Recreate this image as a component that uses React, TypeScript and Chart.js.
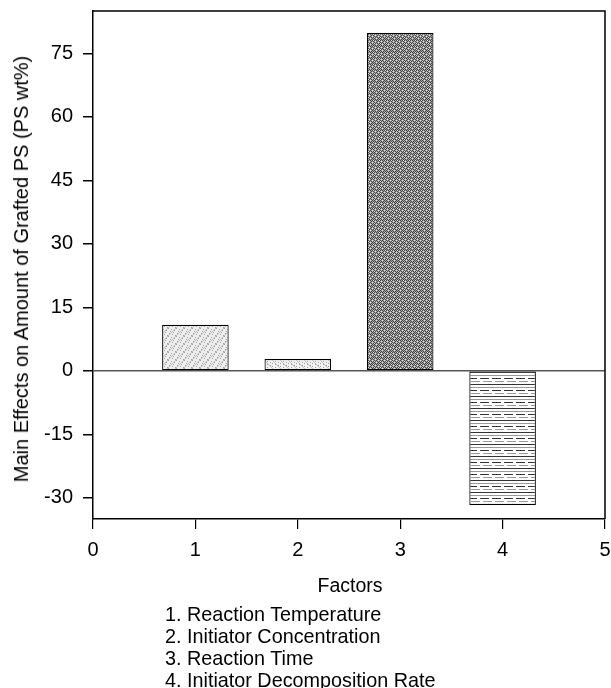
import React, { useEffect, useRef } from "react";
import { Chart, registerables } from "chart.js";

Chart.register(...registerables);

const factors = [1, 2, 3, 4];
const effects = [10.9, 2.8, 79.8, -31.7];
const yTicks = [-30, -15, 0, 15, 30, 45, 60, 75];
const xTicks = [0, 1, 2, 3, 4, 5];
const yTitle = "Main Effects on Amount of Grafted PS (PS wt%)";
const xTitle = "Factors";
const legendLines = [
  "1. Reaction Temperature",
  "2. Initiator Concentration",
  "3. Reaction Time",
  "4. Initiator Decomposition Rate",
];

const FONT = "'Liberation Sans', Arial, sans-serif";

function makePattern(size: number, draw: (g: CanvasRenderingContext2D) => void) {
  const c = document.createElement("canvas");
  c.width = size;
  c.height = size;
  const g = c.getContext("2d") as CanvasRenderingContext2D;
  draw(g);
  return g.createPattern(c, "repeat") as CanvasPattern;
}

function px(g: CanvasRenderingContext2D, x: number, y: number, col: string) {
  g.fillStyle = col;
  g.fillRect(x, y, 1, 1);
}

function buildPatterns() {
  const p1 = makePattern(8, (g) => {
    g.fillStyle = "#eeeeee";
    g.fillRect(0, 0, 8, 8);
    for (let i = 0; i < 8; i++)
      for (let j = 0; j < 8; j++) {
        if ((i * 3 + j * 5) % 7 === 0) px(g, i, j, "#a0a0a0");
      }
    for (let k = 0; k < 8; k++) px(g, k, 7 - k, "#bdbdbd");
  });
  const p2 = makePattern(8, (g) => {
    g.fillStyle = "#f2f2f2";
    g.fillRect(0, 0, 8, 8);
    for (let i = 0; i < 8; i++)
      for (let j = 0; j < 8; j++) {
        if ((i * 5 + j * 3) % 9 === 0) px(g, i, j, "#9c9c9c");
      }
    for (let k = 0; k < 8; k++) px(g, k, k, "#c0c0c0");
  });
  const p3 = makePattern(6, (g) => {
    g.fillStyle = "#a4a4a4";
    g.fillRect(0, 0, 6, 6);
    for (let i = 0; i < 6; i++)
      for (let j = 0; j < 6; j++) {
        if ((i + j) % 2 === 0) px(g, i, j, "#444444");
        if ((i * 2 + j * 3) % 7 === 0) px(g, i, j, "#e4e4e4");
      }
  });
  const p4 = makePattern(12, (g) => {
    g.fillStyle = "#ffffff";
    g.fillRect(0, 0, 12, 12);
    g.fillStyle = "#333333";
    g.fillRect(0, 0, 12, 1);
    g.fillRect(0, 6, 9, 1);
    g.fillStyle = "#9a9a9a";
    g.fillRect(0, 3, 12, 1);
    g.fillRect(3, 9, 9, 1);
  });
  return [p1, p2, p3, p4];
}

const framePlugin = {
  id: "frame",
  afterDraw(chart: any) {
    const { ctx, chartArea: a } = chart;
    ctx.save();
    ctx.strokeStyle = "#000";
    ctx.lineWidth = 1.5;
    ctx.beginPath();
    ctx.moveTo(a.left, a.top);
    ctx.lineTo(a.right, a.top);
    ctx.lineTo(a.right, a.bottom);
    ctx.stroke();
    ctx.restore();
  },
};

function zeroPad(s: any) {
  s.paddingTop = 0;
  s.paddingBottom = 0;
  s.paddingLeft = 0;
  s.paddingRight = 0;
}

export default function App() {
  const ref = useRef<HTMLCanvasElement | null>(null);

  useEffect(() => {
    if (!ref.current) return;
    const patterns = buildPatterns();
    const chart = new Chart(ref.current, {
      type: "bar",
      data: {
        datasets: [
          {
            data: factors.map((f, i) => ({ x: f, y: effects[i] })),
            backgroundColor: patterns,
            borderColor: "#000",
            borderWidth: 1.2,
            borderSkipped: false,
            barPercentage: 0.65,
            categoryPercentage: 1,
          },
        ],
      },
      options: {
        animation: false,
        responsive: false,
        devicePixelRatio: 1,
        layout: { padding: { left: 0, top: 11, right: 6, bottom: 0 } },
        plugins: { legend: { display: false }, tooltip: { enabled: false } },
        scales: {
          x: {
            type: "linear",
            min: 0,
            max: 5,
            offset: false,
            afterBuildTicks: (s: any) => {
              s.ticks = xTicks.map((v) => ({ value: v }));
            },
            afterFit: (s: any) => {
              s.height = 169;
              zeroPad(s);
            },
            grid: {
              offset: false,
              color: "rgba(0,0,0,0)",
              tickColor: "#000",
              tickLength: 10,
              lineWidth: 1.2,
            },
            border: { display: true, color: "#000", width: 1.5 },
            ticks: {
              color: "#000",
              padding: 9,
              maxRotation: 0,
              font: { family: FONT, size: 20 },
            },
          },
          y: {
            type: "linear",
            min: -35,
            max: 85,
            afterBuildTicks: (s: any) => {
              s.ticks = yTicks.map((v) => ({ value: v }));
            },
            afterFit: (s: any) => {
              s.width = 93;
              zeroPad(s);
            },
            grid: {
              color: (c: any) => (c.tick && c.tick.value === 0 ? "#555" : "rgba(0,0,0,0)"),
              lineWidth: 1.5,
              tickColor: "#000",
              tickLength: 10,
            },
            border: { display: true, color: "#000", width: 1.5 },
            ticks: {
              color: "#000",
              padding: 10,
              font: { family: FONT, size: 20 },
            },
          },
        },
      },
      plugins: [framePlugin],
    } as any);
    return () => chart.destroy();
  }, []);

  return (
    <div
      style={{
        position: "absolute",
        left: 0,
        top: 0,
        width: 611,
        height: 688,
        overflow: "hidden",
        background: "#fff",
        fontFamily: FONT,
        color: "#000",
      }}
    >
      <canvas
        ref={ref}
        width={611}
        height={688}
        style={{ position: "absolute", left: 0, top: 0, width: 611, height: 688 }}
      />
      <div
        style={{
          position: "absolute",
          left: 20.5,
          top: 269,
          transform: "translate(-50%, -50%) rotate(-90deg)",
          whiteSpace: "nowrap",
          fontSize: 20,
          lineHeight: "20px",
        }}
      >
        {yTitle}
      </div>
      <div
        style={{
          position: "absolute",
          left: 350,
          top: 575.5,
          transform: "translateX(-50%)",
          whiteSpace: "nowrap",
          fontSize: 19.5,
          lineHeight: "19px",
        }}
      >
        {xTitle}
      </div>
      <div
        style={{
          position: "absolute",
          left: 165,
          top: 603,
          whiteSpace: "nowrap",
          fontSize: 19.8,
          lineHeight: "22px",
        }}
      >
        {legendLines.map((l) => (
          <div key={l}>{l}</div>
        ))}
      </div>
    </div>
  );
}
